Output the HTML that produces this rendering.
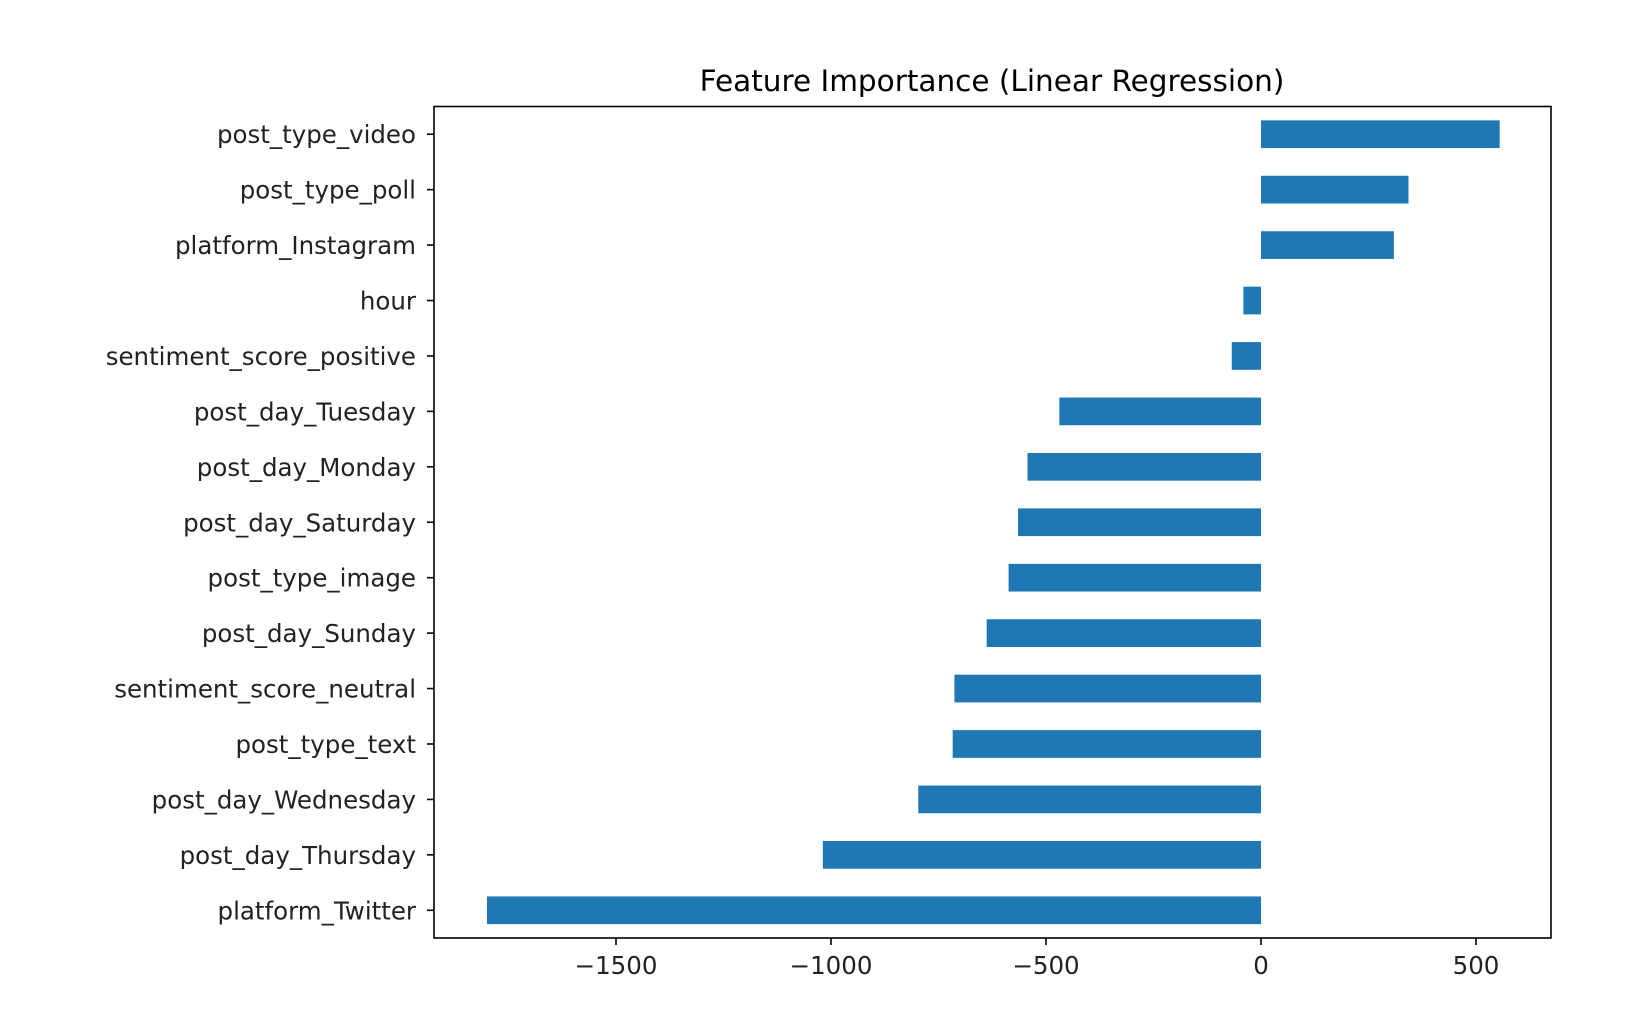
<!DOCTYPE html>
<html><head><meta charset="utf-8"><style>
html,body{margin:0;padding:0;background:#fff;}
svg{display:block;font-family:"DejaVu Sans","Liberation Sans",sans-serif;}
</style></head><body>
<svg id="chart" width="1628" height="1032" viewBox="0 0 1628 1032" xmlns="http://www.w3.org/2000/svg">
<rect width="1628" height="1032" fill="#fff"/>
<text x="992" y="91" font-size="29.5" text-anchor="middle" fill="#000">Feature Importance (Linear Regression)</text>
<g id="bars"></g>
<g id="yticks"></g>
<g id="xticks"></g>
<rect x="434" y="106.5" width="1117" height="831.5" fill="none" stroke="#000" stroke-width="1.6"/>
</svg>
<script>
const categories = ["platform_Twitter","post_day_Thursday","post_day_Wednesday","post_type_text","sentiment_score_neutral","post_day_Sunday","post_type_image","post_day_Saturday","post_day_Monday","post_day_Tuesday","sentiment_score_positive","hour","platform_Instagram","post_type_poll","post_type_video"];
const values = [-1800,-1019,-797,-717,-713,-638,-587,-565,-543,-469,-68,-41,309,343,555];
const xTicks = [-1500,-1000,-500,0,500];
const xTickLabels = ["\u22121500","\u22121000","\u2212500","0","500"];

const NS="http://www.w3.org/2000/svg";
const axL=434, axR=1551, axT=106.5, axB=938;
const zeroX=1261, pxPerUnit=0.43;
function xs(v){return zeroX+v*pxPerUnit;}
const step=(axB-axT)/categories.length;
function ys(i){return axB-(i+0.5)*step;}
function mk(tag,attrs){const e=document.createElementNS(NS,tag);for(const k in attrs)e.setAttribute(k,attrs[k]);return e;}
const gb=document.getElementById('bars'), gy=document.getElementById('yticks'), gx=document.getElementById('xticks');
categories.forEach((c,i)=>{
  const v=values[i];
  const x0=Math.min(xs(0),xs(v)), w=Math.abs(xs(v)-xs(0));
  const r=mk('rect',{x:x0,y:ys(i)-step*0.25,width:w,height:step*0.5,fill:'#1f77b4'});
  
  
  gb.appendChild(r);
  const t=mk('line',{x1:axL-7,x2:axL,y1:ys(i),y2:ys(i),stroke:'#000','stroke-width':1.6});
  
  
  gy.appendChild(t);
  const l=mk('text',{x:axL-18,y:ys(i)+9,'font-size':24.5,'text-anchor':'end',fill:'#222'});
  l.textContent=c;
  
  
  gy.appendChild(l);
});
xTicks.forEach((v,i)=>{
  const t=mk('line',{x1:xs(v),x2:xs(v),y1:axB,y2:axB+7,stroke:'#000','stroke-width':1.6});
  
  
  gx.appendChild(t);
  const l=mk('text',{x:xs(v),y:axB+36,'font-size':24.5,'text-anchor':'middle',fill:'#222'});
  l.textContent=xTickLabels[i];
  
  
  gx.appendChild(l);
});
</script>
</body></html>
